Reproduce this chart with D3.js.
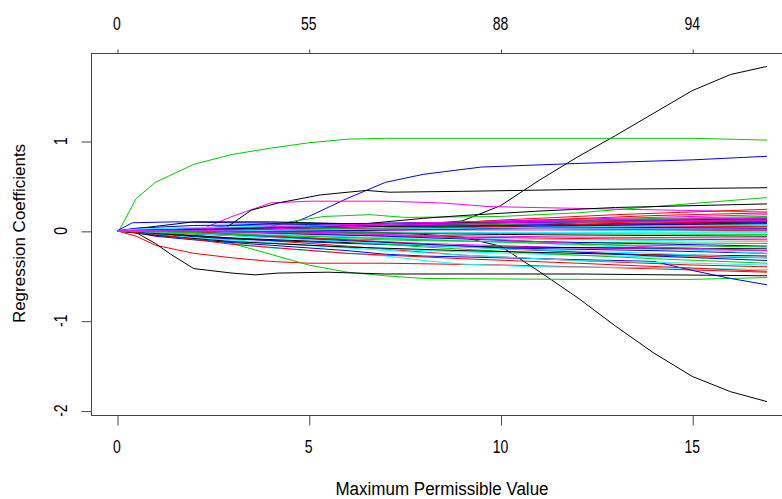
<!DOCTYPE html>
<html>
<head>
<meta charset="utf-8">
<script src="https://cdn.jsdelivr.net/npm/d3@7"></script>
<style>
    body { margin: 0; background: #fff; }
    text { font-family: "Liberation Sans", Arial, sans-serif; fill: #000; }
</style>
</head>
<body>
<svg id="chart" width="782" height="499"></svg>
<script>
// bottom axis (L1 norm) and top axis (non-zero coefs)
const X_TICKS = [0, 5, 10, 15];
const DF_LABELS = ["0", "55", "88", "94"];
const Y_TICKS = [-2, -1, 0, 1];
const X_TITLE = "Maximum Permissible Value";
const Y_TITLE = "Regression Coefficients";

// R palette, cycled like matplot col=1:6
const LINE_COLORS = ["#000000", "#ff0000", "#00cd00", "#0000ff", "#00ffff", "#ff00ff"];

// each path: [l1 norm, coefficient] knots
// groups of six -> black, red, green, blue, cyan, magenta
const coefPaths = [
    // group 1
    [[0,0],[5,0],[7,0.04],[9,0.11],[10,0.28],[11,0.56],[12,0.82],[13,1.06],[14,1.31],[15,1.56],[16,1.74],[16.95,1.83]],
    [[0,0],[0.5,-0.06],[1,-0.16],[2,-0.25],[3,-0.3],[4,-0.34],[5,-0.36],[7,-0.36],[10,-0.38],[13,-0.41],[16.95,-0.46]],
    [[0.05,0],[0.5,0.36],[1,0.54],[2,0.74],[3,0.85],[4,0.92],[5,0.98],[6,1.02],[7,1.03],[15,1.03],[16.95,1.01]],
    [[0,0],[2,0.02],[3,0.06],[4,0.08],[4.6,0.09],[5,0.16],[6,0.36],[7,0.54],[8,0.63],[9.5,0.71],[12,0.75],[15,0.79],[16.95,0.83]],
    [[0,0],[0.5,-0.01],[1,-0.04],[2,-0.09],[3,-0.14],[4,-0.19],[5,-0.22],[6,-0.25],[7,-0.28],[8,-0.33],[9,-0.37],[11,-0.4],[14,-0.41],[16.95,-0.43]],
    [[0,0],[2.1,0],[3,0.16],[4,0.31],[5,0.33],[7,0.33],[8.5,0.31],[9.7,0.27],[12,0.25],[16.95,0.21]],
    // group 2
    [[0,0],[6,0],[7,-0.02],[8,-0.04],[9,-0.07],[10,-0.17],[11,-0.45],[12,-0.74],[13,-1.06],[14,-1.36],[15,-1.62],[16,-1.79],[16.95,-1.9]],
    [[0,0],[1,-0.02],[3,-0.08],[6,-0.17],[9,-0.27],[12,-0.33],[15,-0.38],[16.95,-0.4]],
    [[0,0],[2,-0.03],[3,-0.14],[4,-0.26],[5,-0.38],[6,-0.46],[7,-0.5],[8,-0.53],[12,-0.54],[15,-0.54],[16.95,-0.52]],
    [[0,0],[0.5,-0.02],[1,-0.06],[2,-0.1],[3,-0.13],[4,-0.16],[5,-0.19],[6,-0.22],[7,-0.26],[8,-0.28],[10,-0.3],[12,-0.32],[14,-0.34],[15,-0.44],[16,-0.53],[16.95,-0.6]],
    [[0,0],[1,-0.03],[3,-0.1],[5,-0.16],[8,-0.22],[11,-0.26],[14,-0.29],[16.95,-0.3]],
    [[0,0],[2,-0.02],[5,-0.08],[8,-0.14],[12,-0.19],[16.95,-0.22]],
    // group 3
    [[0,0],[0.5,-0.02],[1,-0.14],[1.4,-0.26],[2,-0.42],[3,-0.47],[3.6,-0.49],[4.2,-0.47],[5.5,-0.46],[7,-0.48],[12,-0.48],[16.95,-0.5]],
    [[0,0],[4,0.01],[7,0.05],[10,0.12],[13,0.18],[16.95,0.24]],
    [[0,0],[3.5,0],[4.5,0.1],[5.4,0.16],[6.6,0.18],[7.5,0.15],[10,0.16],[12,0.2],[14,0.27],[16.95,0.37]],
    [[0,0],[0.4,0.09],[1.5,0.1],[3,0.09],[6,0.08],[10,0.1],[14,0.12],[16.95,0.13]],
    [[0,0],[1,0.01],[4,0.03],[8,0.04],[12,0.04],[16.95,0.04]],
    [[0,0],[3,0],[5,0.04],[9,0.08],[13,0.1],[16.95,0.12]],
    // group 4
    [[0,0],[2.7,0],[3,0.08],[3.5,0.23],[4.2,0.31],[5.3,0.4],[6.5,0.45],[7.1,0.43],[9,0.44],[12,0.46],[16.95,0.48]],
    [[0,0],[1,-0.01],[3,0.01],[7,0.03],[12,0.04],[16.95,0.05]],
    [[0,0],[1,-0.02],[4,-0.07],[8,-0.11],[12,-0.13],[16.95,-0.14]],
    [[0,0],[1,-0.04],[3,-0.09],[6,-0.14],[10,-0.19],[14,-0.22],[16.95,-0.25]],
    [[0,0],[2,-0.03],[6,-0.07],[10,-0.09],[16.95,-0.12]],
    [[0,0],[2,0.01],[5,0.03],[9,0.05],[13,0.07],[16.95,0.08]],
    // group 5
    [[0,0],[4,0],[6,0.06],[7,0.1],[8,0.14],[9,0.17],[11,0.22],[13,0.26],[16.95,0.3]],
    [[0,0],[2,-0.01],[5,-0.04],[9,-0.07],[13,-0.09],[16.95,-0.1]],
    [[0,0],[5,0],[7,0.04],[10,0.09],[13,0.13],[16.95,0.16]],
    [[0,0],[1.5,0.01],[5,0.02],[10,0.02],[16.95,0.02]],
    [[0,0],[1,-0.04],[3,-0.11],[6,-0.19],[9,-0.27],[12,-0.33],[16.95,-0.38]],
    [[0,0],[3,0.01],[6,0.06],[10,0.11],[14,0.15],[16.95,0.18]],
    // group 6
    [[0,0],[1,0.05],[2,0.1],[4,0.1],[6,0.08],[9,0.09],[13,0.12],[16.95,0.14]],
    [[0,0],[3,0],[6,0.03],[10,0.07],[14,0.1],[16.95,0.11]],
    [[0,0],[2,0],[5,0.02],[9,0.04],[13,0.06],[16.95,0.07]],
    [[0,0],[1,0.01],[4,0.04],[8,0.06],[12,0.07],[16.95,0.08]],
    [[0,0],[2,-0.01],[6,-0.01],[10,-0.02],[16.95,-0.02]],
    [[0,0],[4,0],[7,0.03],[11,0.06],[16.95,0.09]],
    // group 7
    [[0,0],[2,-0.01],[6,-0.02],[10,-0.04],[16.95,-0.06]],
    [[0,0],[5,0],[8,0.06],[11,0.12],[14,0.17],[16.95,0.2]],
    [[0,0],[1,-0.01],[5,-0.02],[10,-0.03],[16.95,-0.04]],
    [[0,0],[0.5,0.03],[2,0.06],[5,0.07],[9,0.05],[13,0.04],[16.95,0.03]],
    [[0,0],[3,-0.02],[7,-0.08],[11,-0.14],[16.95,-0.25]],
    [[0,0],[5,0],[8,0.01],[12,0.01],[16.95,0.01]],
    // group 8
    [[0,0],[1,-0.03],[3,-0.08],[6,-0.13],[10,-0.18],[16.95,-0.2]],
    [[0,0],[2,0],[6,0.03],[10,0.02],[13,0.01],[16.95,0]],
    [[0,0],[2,-0.02],[5,-0.09],[8,-0.18],[11,-0.25],[14,-0.31],[16.95,-0.36]],
    [[0,0],[3,-0.01],[7,-0.06],[11,-0.12],[16.95,-0.17]],
    [[0,0],[0.5,0.02],[2,0.04],[6,0.05],[10,0.06],[16.95,0.06]],
    [[0,0],[1,0],[4,-0.02],[8,-0.05],[12,-0.07],[16.95,-0.08]],
    // group 9
    [[0,0],[1,-0.05],[3,-0.12],[6,-0.18],[9,-0.22],[13,-0.26],[16.95,-0.28]],
    [[0,0],[2,-0.01],[6,-0.1],[10,-0.2],[14,-0.27],[16.95,-0.3]],
    [[0,0],[3,0],[6,0.03],[9,0.08],[13,0.12],[16.95,0.15]],
    [[0,0],[2,-0.03],[6,-0.11],[10,-0.19],[14,-0.28],[16.95,-0.33]],
    [[0,0],[1,0.02],[4,0.05],[8,0.03],[12,0.01],[16.95,-0.01]],
    [[0,0],[4,0],[7,-0.04],[11,-0.12],[14,-0.18],[16.95,-0.22]],
    // group 10
    [[0,0],[6,0],[9,0.04],[13,0.08],[16.95,0.1]],
    [[0,0],[1,-0.04],[3,-0.15],[6,-0.25],[9,-0.31],[12,-0.36],[16.95,-0.45]],
    [[0,0],[5,0],[8,0.04],[12,0.1],[16.95,0.12]],
    [[0,0],[2,0.02],[6,0.05],[10,0.09],[16.95,0.13]],
    [[0,0],[2,-0.03],[6,-0.12],[10,-0.2],[14,-0.25],[16.95,-0.3]],
    [[0,0],[2,0.02],[6,0.07],[10,0.11],[16.95,0.14]],
    // group 11
    [[0,0],[3,0.02],[7,0.05],[11,0.06],[16.95,0.07]],
    [[0,0],[4,0],[8,0.03],[12,0.07],[16.95,0.11]],
    [[0,0],[1,-0.01],[4,-0.05],[8,-0.1],[12,-0.15],[16.95,-0.18]],
    [[0,0],[5,0],[9,0.02],[13,0.06],[16.95,0.09]],
    [[0,0],[3,0],[7,0.02],[11,0.04],[16.95,0.07]],
    [[0,0],[3,0.01],[7,0.06],[11,0.1],[16.95,0.12]],
];

const svg = d3.select("#chart");
// plot box (right side runs past the window like the original)
let box = { left: 91, top: 53, right: 793, bottom: 415 };

// R pads the data range by 4% on each side
const pad4 = (ext) => {
    const d = (ext[1] - ext[0]) * 0.04;
    return [ext[0] - d, ext[1] + d];
};
const allPts = coefPaths.flat();
const xScale = d3.scaleLinear()
    .domain(pad4(d3.extent(allPts, (p) => p[0])))
    .range([box.left, box.right]);
const yScale = d3.scaleLinear()
    .domain(pad4(d3.extent(allPts, (p) => p[1])))
    .range([box.bottom, box.top]);

const color = (i) => LINE_COLORS[i % LINE_COLORS.length];

const line = d3.line()
    .x((d) => xScale(d[0]))
    .y((d) => yScale(d[1]));

svg.append("rect").attr("width", 782).attr("height", 499).attr("fill", "#fff");

svg.append("defs").append("clipPath").attr("id", "plot-clip")
    .append("rect")
    .attr("x", box.left).attr("y", box.top)
    .attr("width", box.right - box.left).attr("height", box.bottom - box.top);

svg.append("g")
    .attr("clip-path", "url(#plot-clip)")
    .selectAll("path.coef")
    .data(coefPaths)
    .enter()
    .append("path")
    .attr("class", "coef")
    .attr("d", (d) => line(d))
    .attr("fill", "none")
    .attr("stroke", (d, i) => color(i))
    .attr("stroke-width", 1);

svg.append("rect")
    .attr("x", box.left + 0.5).attr("y", box.top + 0.5)
    .attr("width", box.right - box.left).attr("height", box.bottom - box.top)
    .attr("fill", "none")
    .attr("stroke", "#444")
    .attr("stroke-width", 1);

// tall narrow glyphs like the original
const addText = (x, y, str, size, rot, sy) => {
    svg.append("text")
        .attr("transform", `translate(${x},${y})` + (rot ? " rotate(-90)" : "") + ` scale(1,${sy})`)
        .attr("text-anchor", "middle")
        .style("font-size", size + "px")
        .text(str);
};

// bottom axis
const xAxis = d3.axisBottom(xScale).tickValues(X_TICKS).tickSize(10).tickFormat("");
svg.append("g")
    .attr("transform", `translate(0.5,${box.bottom + 0.5})`)
    .call(xAxis)
    .call((g) => g.select(".domain").remove())
    .call((g) => g.selectAll("line").attr("stroke", "#444"));
X_TICKS.forEach((v) => addText(xScale(v), 453, String(v), 14, false, 1.3));

// top axis, degrees of freedom
const topAxis = d3.axisTop(xScale).tickValues(X_TICKS).tickSize(4).tickFormat("");
svg.append("g")
    .attr("transform", `translate(0.5,${box.top + 0.5})`)
    .call(topAxis)
    .call((g) => g.select(".domain").remove())
    .call((g) => g.selectAll("line").attr("stroke", "#444"));
X_TICKS.forEach((v, i) => addText(xScale(v), 29.5, DF_LABELS[i], 14, false, 1.3));

// left axis, labels turned like R's las=0
const yAxis = d3.axisLeft(yScale).tickValues(Y_TICKS).tickSize(10).tickFormat("");
svg.append("g")
    .attr("transform", `translate(${box.left + 0.5},0.5)`)
    .call(yAxis)
    .call((g) => g.select(".domain").remove())
    .call((g) => g.selectAll("line").attr("stroke", "#444"));
Y_TICKS.forEach((v) => addText(66.5, yScale(v), String(v), 14, true, 1.3));

addText(442, 495, X_TITLE, 17, false, 1.05);
addText(25, 233.5, Y_TITLE, 17, true, 1.0);
</script>
</body>
</html>
